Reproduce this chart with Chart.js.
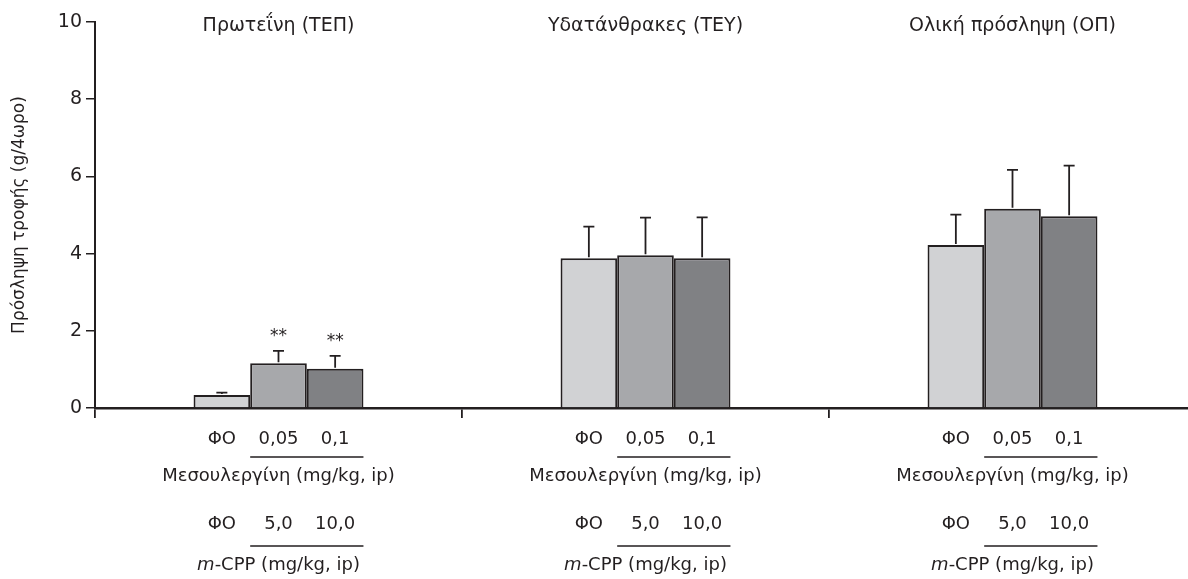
<!DOCTYPE html>
<html>
<head>
<meta charset="utf-8">
<script src="https://cdn.jsdelivr.net/npm/chart.js@4/dist/chart.umd.min.js"></script>
<style>
    html, body { margin: 0; padding: 0; background: #ffffff; overflow: hidden; }
</style>
</head>
<body>
<canvas id="barChart" width="1200" height="579"></canvas>
<script>
// ομάδες (κατηγορίες)
const groupTitles = ['Πρωτεΐνη (ΤΕΠ)', 'Υδατάνθρακες (ΤΕΥ)', 'Ολική πρόσληψη (ΟΠ)'];
// δόσεις
const mesoDoses = ['ΦΟ', '0,05', '0,1'];
const cppDoses = ['ΦΟ', '5,0', '10,0'];
// μέσες τιμές ανά θεραπεία
const meanVehicle = [0.34, 3.88, 4.22];
const meanLow = [1.16, 3.96, 5.16];
const meanHigh = [1.02, 3.88, 4.97];
// τυπικό σφάλμα (μόνο προς τα πάνω)
const semVehicle = [0.06, 0.82, 0.79];
const semLow = [0.32, 0.97, 1.01];
const semHigh = [0.33, 1.06, 1.31];
// σημάδια σημαντικότητας
const starsVehicle = ['', '', ''];
const starsLow = ['**', '', ''];
const starsHigh = ['**', '', ''];
const yTicks = [0, 2, 4, 6, 8, 10];

const FONT = '"DejaVu Sans", sans-serif';
const TXT = 18;
const INK = '#231f20';

// γραμμές σφάλματος και αστερίσκοι
const errorBarPlugin = {
    id: 'errorBars',
    afterDatasetsDraw(chart) {
        const ctx = chart.ctx;
        const yScale = chart.scales.y;
        chart.data.datasets.forEach((ds, di) => {
            const meta = chart.getDatasetMeta(di);
            meta.data.forEach((bar, i) => {
                const top = yScale.getPixelForValue(ds.data[i] + ds.sem[i]);
                ctx.save();
                ctx.strokeStyle = INK;
                ctx.lineWidth = 1.8;
                ctx.beginPath();
                ctx.moveTo(bar.x, bar.y - 1);
                ctx.lineTo(bar.x, top);
                ctx.moveTo(bar.x - 5.5, top);
                ctx.lineTo(bar.x + 5.5, top);
                ctx.stroke();
                if (ds.stars[i]) {
                    ctx.fillStyle = INK;
                    ctx.font = '17px ' + FONT;
                    ctx.textAlign = 'center';
                    ctx.textBaseline = 'middle';
                    ctx.fillText(ds.stars[i], bar.x, top - 14);
                }
                ctx.restore();
            });
        });
    }
};

// τίτλοι ομάδων και ετικέτες δόσεων κάτω από τον άξονα
const labelPlugin = {
    id: 'groupLabels',
    afterDraw(chart) {
        const ctx = chart.ctx;
        const xScale = chart.scales.x;
        const metas = [0, 1, 2].map(d => chart.getDatasetMeta(d));
        ctx.save();
        ctx.fillStyle = INK;
        ctx.strokeStyle = INK;
        ctx.textAlign = 'center';
        ctx.textBaseline = 'middle';
        groupTitles.forEach((title, i) => {
            const cx = xScale.getPixelForValue(i);
            const bars = metas.map(m => m.data[i]);
            ctx.font = '19px ' + FONT;
            ctx.fillText(title, cx, 26);

            ctx.font = TXT + 'px ' + FONT;
            bars.forEach((b, k) => {
                ctx.fillText(mesoDoses[k], b.x, 439);
                ctx.fillText(cppDoses[k], b.x, 524);
            });
            const x0 = bars[1].x - bars[1].width / 2;
            const x1 = bars[2].x + bars[2].width / 2;
            ctx.lineWidth = 1.5;
            ctx.beginPath();
            ctx.moveTo(x0, 457);
            ctx.lineTo(x1, 457);
            ctx.moveTo(x0, 546);
            ctx.lineTo(x1, 546);
            ctx.stroke();

            ctx.fillText('Μεσουλεργίνη (mg/kg, ip)', cx, 476);

            // m-CPP με πλάγιο m
            const rest = '-CPP (mg/kg, ip)';
            ctx.font = 'italic ' + TXT + 'px ' + FONT;
            const wm = ctx.measureText('m').width;
            ctx.font = TXT + 'px ' + FONT;
            const wr = ctx.measureText(rest).width;
            const start = cx - (wm + wr) / 2;
            ctx.textAlign = 'left';
            ctx.font = 'italic ' + TXT + 'px ' + FONT;
            ctx.fillText('m', start, 565);
            ctx.font = TXT + 'px ' + FONT;
            ctx.fillText(rest, start + wm, 565);
            ctx.textAlign = 'center';
        });
        ctx.restore();
    }
};

function makeSet(label, data, sem, stars, color) {
    return {
        label: label,
        data: data,
        sem: sem,
        stars: stars,
        backgroundColor: color,
        borderColor: INK,
        borderWidth: 2,
        barPercentage: 1,
        categoryPercentage: 0.463
    };
}

let config = {
    type: 'bar',
    data: {
        labels: groupTitles,
        datasets: [
            makeSet('ΦΟ', meanVehicle, semVehicle, starsVehicle, '#d1d2d4'),
            makeSet('Χαμηλή δόση', meanLow, semLow, starsLow, '#a7a8ab'),
            makeSet('Υψηλή δόση', meanHigh, semHigh, starsHigh, '#808184')
        ]
    },
    options: {
        responsive: false,
        animation: false,
        layout: { padding: { left: 0, right: 4, top: 22, bottom: 0 } },
        plugins: {
            legend: { display: false },
            tooltip: { enabled: false }
        },
        scales: {
            x: {
                grid: {
                    display: true,
                    offset: true,
                    drawOnChartArea: false,
                    drawTicks: true,
                    tickLength: 10,
                    color: INK,
                    lineWidth: 1.8
                },
                border: { display: true, color: INK, width: 2.5 },
                ticks: { display: false },
                afterFit(scale) { scale.height = 171; }
            },
            y: {
                min: 0,
                max: 10,
                afterBuildTicks(scale) { scale.ticks = yTicks.map(v => ({ value: v })); },
                grid: {
                    display: true,
                    drawOnChartArea: false,
                    drawTicks: true,
                    tickLength: 9,
                    color: INK,
                    lineWidth: 1.5
                },
                border: { display: true, color: INK, width: 2 },
                ticks: {
                    color: INK,
                    font: { family: FONT, size: 19 },
                    padding: 4
                },
                title: {
                    display: true,
                    text: 'Πρόσληψη τροφής (g/4ωρο)',
                    color: INK,
                    font: { family: FONT, size: 17 },
                    padding: { top: 9, bottom: 0 }
                },
                afterFit(scale) { scale.width = 95; }
            }
        }
    },
    plugins: [errorBarPlugin, labelPlugin]
};

let chart = new Chart(document.getElementById('barChart').getContext('2d'), config);
</script>
</body>
</html>
